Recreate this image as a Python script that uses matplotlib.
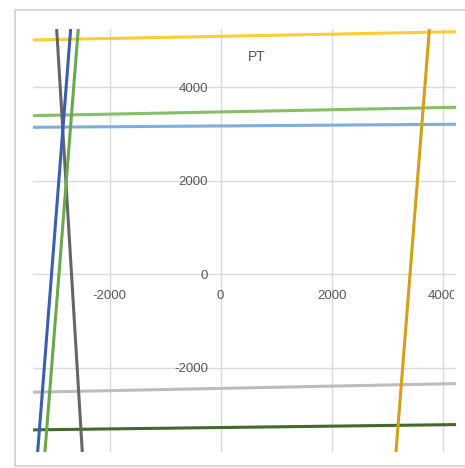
import matplotlib.pyplot as plt
from matplotlib.patches import Rectangle

plt.rcParams['axes.unicode_minus'] = False  # guion normal como en Excel

# datos de cada serie (dos puntos por recta)
amarilla_x = [-3387, 4240]
amarilla_y = [5012, 5189]
verde_clara_x = [-3387, 4240]
verde_clara_y = [3393, 3572]
azul_clara_x = [-3387, 4240]
azul_clara_y = [3144, 3209]
gris_clara_x = [-3387, 4240]
gris_clara_y = [-2524, -2340]
verde_oscura_x = [-3387, 4240]
verde_oscura_y = [-3330, -3217]
gris_x = [-2955, -2494]
gris_y = [5247, -3797]
azul_x = [-2703, -3297]
azul_y = [5247, -3797]
verde_x = [-2566, -3166]
verde_y = [5247, -3797]
dorada_x = [3759, 3159]
dorada_y = [5220, -3797]

ticks = [-2000, 0, 2000, 4000]
titulo = "PT"

W, H = 465, 468
fig = plt.figure(figsize=(W / 100, H / 100), dpi=100)
fig.patch.set_facecolor("white")

# borde del area del grafico (tipo Excel)
fondo = fig.add_axes([0, 0, 1, 1], zorder=-5)
fondo.set_axis_off()
fondo.add_patch(Rectangle((15 / W, 1 - 466 / H), 1.0, (466 - 10) / H,
                          transform=fondo.transAxes, facecolor="white",
                          edgecolor="#D0D0D0", linewidth=1.2))

ax = fig.add_axes([32.7 / W, 1 - 451.7 / H, (456 - 32.7) / W, (451.7 - 29) / H])
ax.set_facecolor("none")

lw = 2.2
ax.plot(amarilla_x, amarilla_y, color="#FFCC33", lw=lw)
ax.plot(verde_clara_x, verde_clara_y, color="#86C066", lw=lw)
ax.plot(azul_clara_x, azul_clara_y, color="#7EAEDD", lw=lw)
ax.plot(gris_clara_x, gris_clara_y, color="#BDBDBD", lw=lw)
ax.plot(verde_oscura_x, verde_oscura_y, color="#3F6B2C", lw=lw)
ax.plot(gris_x, gris_y, color="#666666", lw=lw)
ax.plot(azul_x, azul_y, color="#3A5FB0", lw=lw)
ax.plot(verde_x, verde_y, color="#6AA84F", lw=lw)
ax.plot(dorada_x, dorada_y, color="#D4A017", lw=lw)

ax.set_xlim(-3387, 4240)
ax.set_ylim(-3797, 5247)
ax.set_xticks(ticks)
ax.set_yticks(ticks)
ax.grid(True, color="#D9D9D9", linewidth=1)
ax.set_axisbelow(True)

for s in ax.spines.values():
    s.set_visible(False)
ax.spines["left"].set_position(("data", 0))
ax.spines["bottom"].set_position(("data", 0))

ax.tick_params(axis="both", length=0, labelsize=9.5, labelcolor="#595959")
ax.tick_params(axis="y", pad=9)
ax.tick_params(axis="x", pad=11)
for lab in ax.get_xticklabels() + ax.get_yticklabels():
    lab.set_fontfamily("Liberation Sans")

# la etiqueta 4000 queda cortada en el borde
corte = Rectangle((0, 0), 454 / W, 1, transform=fig.transFigure, visible=False)
fig.patches.append(corte)
ultima = ax.get_xticklabels()[-1]
ultima.set_clip_on(True)
ultima.set_clip_path(corte)

fig.text(257 / W, 1 - 57 / H, titulo, ha="center", va="center",
         fontsize=10, color="#595959", family="Liberation Sans")

fig.savefig("out.png", dpi=100)
